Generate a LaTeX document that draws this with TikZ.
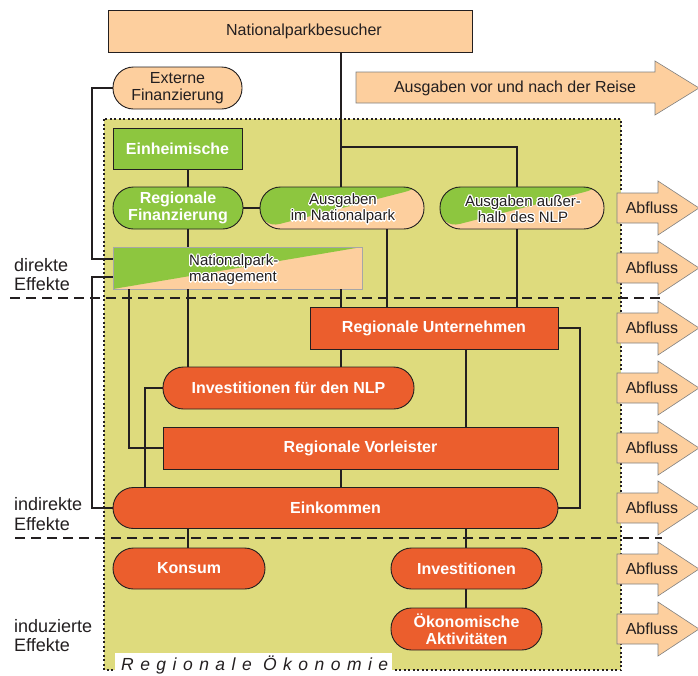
\documentclass[tikz,border=0pt]{standalone}
\usepackage{fontspec}
\setmainfont{Liberation Sans}
\usetikzlibrary{calc}
\definecolor{peach}{RGB}{253,207,158}
\definecolor{npgreen}{RGB}{141,198,63}
\definecolor{orng}{RGB}{235,94,45}
\definecolor{olive}{RGB}{222,219,125}
\definecolor{ink}{RGB}{35,31,32}
\tikzset{
 conn/.style={draw=ink, line width=2.6pt},
 basebox/.style={inner sep=0pt, draw=ink, line width=0.9pt, align=center, font=\fontsize{16}{17}\selectfont},
 peachbox/.style={basebox, fill=peach, text=ink},
 greenbox/.style={basebox, fill=npgreen, text=white, font=\fontsize{16}{17}\selectfont\bfseries},
 orangebox/.style={basebox, fill=orng, text=white, font=\fontsize{16}{17}\selectfont\bfseries},
 pill/.style={rounded corners=20.5pt},
 splitfill/.style={basebox, path picture={
   \fill[peach] (path picture bounding box.south west) rectangle (path picture bounding box.north east);
   \fill[npgreen] (path picture bounding box.south west) -- (path picture bounding box.north east) -- (path picture bounding box.north west) -- cycle;}},
 flow/.style={fill=peach, draw=black!50, line width=0.6pt},
 flowtxt/.style={inner sep=0pt, text=ink, font=\fontsize{16}{17}\selectfont},
 lbl/.style={font=\fontsize{18}{19.5}\selectfont, text=ink, align=left, anchor=west, inner sep=0pt},
 halotxt/.style={font=\fontsize{15}{16}\selectfont, align=center, inner sep=0pt, text=ink},
 effdash/.style={draw=ink, line width=1.4pt, dash pattern=on 10pt off 6pt},
}
\newcommand\halonode[4][]{%
  \foreach \a in {0,30,...,330}{\node[halotxt,#1,text=white] at ($(#3)+(\a:1.2)$) {#4};}
  \node[halotxt,#1] (#2) at (#3) {#4};}
\begin{document}
\begin{tikzpicture}[x=1pt,y=-1pt]
\useasboundingbox (0,0) rectangle (698,675);
% region background
\fill[olive] (104,119) rectangle (621,670);
\draw[ink, line width=1.5pt, dash pattern=on 2pt off 2.5pt] (104,119) rectangle (621,670);
% effect separators
\draw[effdash] (10,298) -- (662,298);
\draw[effdash] (15,538) -- (662,538);
% left labels
\node[lbl] (ldir) at (14,274.5) {direkte\\Effekte};
\node[lbl] (lind) at (14,514) {indirekte\\Effekte};
\node[lbl] (linz) at (14,635.5) {induzierte\\Effekte};
% top
\node[peachbox, minimum width=364pt, minimum height=42pt] (besucher) at (290,31) {};
\node[flowtxt] (besuchertxt) at (304,31) {Nationalparkbesucher};
\draw[flow] (356,72) -- (655,72) -- (655,61) -- (699,88) -- (655,115) -- (655,103) -- (356,103) -- cycle;
\node[flowtxt] (reise) at (515,88) {Ausgaben vor und nach der Reise};
\node[peachbox, pill, minimum width=129pt, minimum height=42pt] (externe) at (177.5,88) {Externe\\Finanzierung};
% nodes
\node[greenbox, minimum width=129pt, minimum height=41pt] (einh) at (177.5,148.5) {Einheimische};
\node[greenbox, pill, minimum width=130pt, minimum height=42pt] (regfin) at (178,208) {Regionale\\Finanzierung};
\node[splitfill, pill, minimum width=164pt, minimum height=42pt] (ausNP) at (342,208) {};
\node[splitfill, pill, minimum width=164pt, minimum height=42pt] (ausAus) at (522,208) {};
\node[splitfill, draw=black!35, line width=0.6pt, minimum width=249pt, minimum height=42pt] (mgmt) at (237.5,268) {};
\node[orangebox, minimum width=248pt, minimum height=42pt] (RU) at (434,328) {Regionale Unternehmen};
\node[orangebox, pill, minimum width=251pt, minimum height=42pt] (invNLP) at (288.5,388) {Investitionen für den NLP};
\node[orangebox, minimum width=395pt, minimum height=42pt] (RV) at (360.5,448) {Regionale Vorleister};
\node[orangebox, pill, minimum width=445pt, minimum height=41pt] (eink) at (335.5,508) {Einkommen};
\node[orangebox, pill, minimum width=152pt, minimum height=41pt] (konsum) at (189,568.5) {Konsum};
\node[orangebox, pill, minimum width=151pt, minimum height=41pt] (inv) at (466.5,568.5) {Investitionen};
\node[orangebox, pill, minimum width=151pt, minimum height=42pt] (oa) at (466.5,629) {Ökonomische\\Aktivitäten};
% halo texts
\halonode{tausNP}{343,209}{Ausgaben\\im Nationalpark}
\halonode{tausAus}{523,209}{Ausgaben außer-\\halb des NLP}
\halonode[align=left,anchor=west]{tmgmt}{189,270}{Nationalpark-\\management}
% column coordinates
\coordinate (xA) at (92,0);
\coordinate (xB) at (129,0);
\coordinate (xC) at (145,0);
\coordinate (xD) at (188,0);
\coordinate (xE) at (341,0);
\coordinate (xF) at (387,0);
\coordinate (xG) at (466,0);
\coordinate (xH) at (517,0);
\coordinate (xI) at (580,0);
\coordinate (jV) at (341,147);
% connectors
\draw[conn] (besucher.south -| xE) -- (ausNP.north -| xE);
\draw[conn] (jV) -| (ausAus.north -| xH);
\draw[conn] (externe.west) -- (externe.west -| xA) |- ([yshift=9pt]mgmt.west);
\draw[conn] (eink.west) -- (eink.west -| xA) |- ([yshift=-9pt]mgmt.west);
\draw[conn] (einh.south -| xD) -- (regfin.north -| xD);
\draw[conn] (regfin.south -| xD) -- (mgmt.north -| xD);
\draw[conn] (regfin.east) -- (ausNP.west);
\draw[conn] (mgmt.south -| xD) -- (invNLP.north -| xD);
\draw[conn] (mgmt.south -| xB) |- (RV.west);
\draw[conn] (mgmt.south -| xE) -- (RU.north -| xE);
\draw[conn] (ausNP.south -| xF) -- (RU.north -| xF);
\draw[conn] (ausAus.south -| xH) -- (RU.north -| xH);
\draw[conn] (RU.east) -| (xI |- eink.east) -- (eink.east);
\draw[conn] (RU.south -| xE) -- (invNLP.north -| xE);
\draw[conn] (RU.south -| xG) -- (RV.north -| xG);
\draw[conn] (invNLP.west) -| (eink.north -| xC);
\draw[conn] (RV.south -| xE) -- (eink.north -| xE);
\draw[conn] (eink.south -| xD) -- (konsum.north -| xD);
\draw[conn] (eink.south -| xG) -- (inv.north -| xG);
\draw[conn] (inv.south -| xG) -- (oa.north -| xG);
% outflow arrows
\foreach \y [count=\i] in {208,268,328,388,448,508,569,629}{
  \draw[flow] (617,\y-15) -- (658,\y-15) -- (658,\y-27) -- (699,\y) -- (658,\y+27) -- (658,\y+15) -- (617,\y+15) -- cycle;
  \node[flowtxt] (abfluss\i) at (652,\y) {Abfluss};
}
% region label
\fill[white] (115,653) rectangle (392,676);
\node[inner sep=0pt, anchor=base west, text=ink, font=\fontsize{17.5}{18}\selectfont\itshape\addfontfeatures{LetterSpace=37}] (regoek) at (121,670) {Regionale Ökonomie};
\end{tikzpicture}
\end{document}
